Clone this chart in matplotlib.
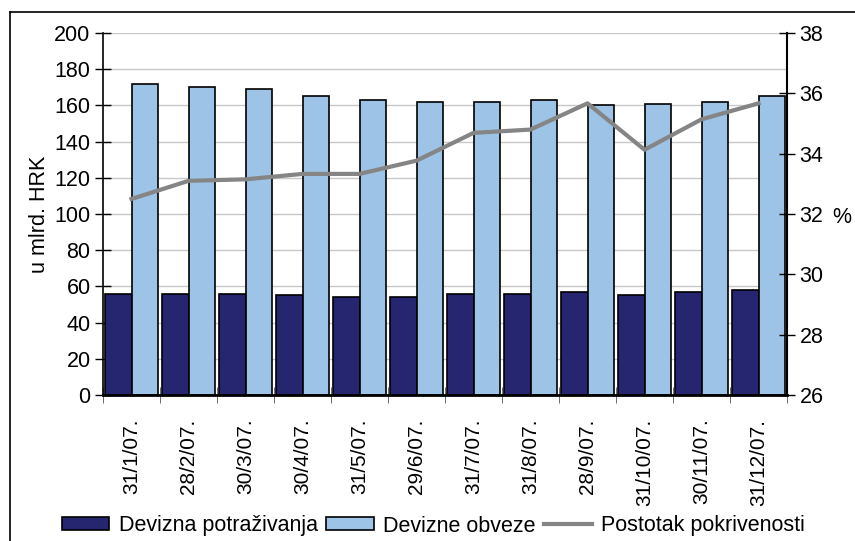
''' Devizna potrazivanja i obveze, 2007. '''

import matplotlib.pyplot as plt
import numpy as np
from matplotlib.lines import Line2D

plt.rcParams['font.family'] = ['Liberation Sans', 'DejaVu Sans']

dates = ['31/1/07.', '28/2/07.', '30/3/07.', '30/4/07.', '31/5/07.', '29/6/07.',
         '31/7/07.', '31/8/07.', '28/9/07.', '31/10/07.', '30/11/07.', '31/12/07.']
potrazivanja = [56, 56, 56, 55, 54, 54, 56, 56, 57, 55, 57, 58]
obveze = [172, 170, 169, 165, 163, 162, 162, 163, 160, 161, 162, 165]
pokrivenost = [32.5, 33.1, 33.15, 33.33, 33.33, 33.77, 34.69, 34.8, 35.67, 34.13, 35.14, 35.67]

DARK = '#262670'
LIGHT = '#9dc3e6'
GREY = '#858585'
FS = 15.5


def plot_data():
    fig = plt.figure(figsize=(8.55, 5.41), dpi=100)

    # outer frame (left and top edges only visible)
    fig.add_artist(Line2D([10 / 855, 10 / 855], [0, 1 - 12 / 541],
                          transform=fig.transFigure, color='black', lw=1.2))
    fig.add_artist(Line2D([10 / 855, 1], [1 - 12 / 541, 1 - 12 / 541],
                          transform=fig.transFigure, color='black', lw=1.2))

    ax = fig.add_axes([0.1205, 0.2699, 0.80, 0.669])
    x = np.arange(len(dates))
    w = 0.46

    ax.bar(x - w / 2, potrazivanja, w, color=DARK, edgecolor='black', lw=1.2,
           label='Devizna potraživanja', zorder=2)
    ax.bar(x + w / 2, obveze, w, color=LIGHT, edgecolor='black', lw=1.2,
           label='Devizne obveze', zorder=2)

    ax.set_xlim(-0.5, len(dates) - 0.5)
    ax.set_ylim(0, 200)
    ax.set_yticks(range(0, 201, 20))
    ax.yaxis.grid(True, color='#c8c8c8', lw=1, zorder=0)
    ax.set_axisbelow(True)
    ax.tick_params(axis='y', direction='inout', length=11, labelsize=FS, width=1)

    ax.set_xticks(x)
    ax.set_xticklabels(dates, rotation=90, fontsize=15)
    ax.set_xticks(np.arange(-0.5, len(dates), 1), minor=True)
    ax.tick_params(axis='x', which='major', length=0, pad=17)
    ax.tick_params(axis='x', which='minor', direction='inout', length=11,
                   color='#555555')
    ax.set_ylabel('u mlrd. HRK', fontsize=FS)
    ax.yaxis.set_label_coords(-0.077, 0.5)

    for side in ['top', 'right']:
        ax.spines[side].set_visible(False)
    ax.spines['bottom'].set_linewidth(2)
    ax.spines['left'].set_linewidth(1.2)

    ax2 = ax.twinx()
    ax2.plot(x, pokrivenost, color=GREY, lw=3, label='Postotak pokrivenosti', zorder=3)
    ax2.set_ylim(26, 38)
    ax2.set_yticks(range(26, 39, 2))
    ax2.tick_params(axis='y', direction='inout', length=11, labelsize=FS, width=1)
    ax2.set_ylabel('%', fontsize=FS, rotation=0, va='center', ha='center')
    ax2.yaxis.set_label_coords(1.08, 0.49)
    for side in ['top', 'left', 'bottom']:
        ax2.spines[side].set_visible(False)
    ax2.spines['right'].set_linewidth(1.5)

    h1, l1 = ax.get_legend_handles_labels()
    h2, l2 = ax2.get_legend_handles_labels()
    fig.legend(h1 + h2, l1 + l2, loc='center', bbox_to_anchor=(0.507, 1 - 526 / 541),
               ncol=3, frameon=False, fontsize=FS, handlelength=2.2,
               handleheight=0.56, handletextpad=0.45, columnspacing=0.4,
               borderpad=0)

    fig.savefig('out.png', dpi=100)


if __name__ == '__main__':
    plot_data()
